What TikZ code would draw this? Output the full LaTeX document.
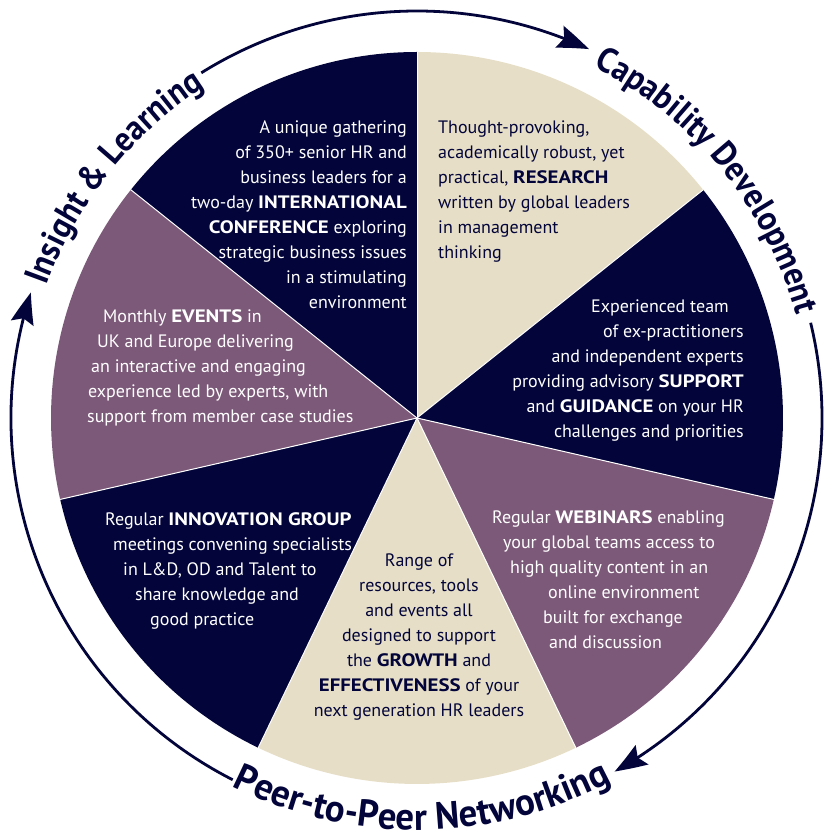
\documentclass[tikz,border=0pt]{standalone}
\usepackage{fontspec}
\setmainfont{PT Sans}[BoldFeatures={FakeStretch=1.16}]
\newfontfamily\curvefamA{PT Sans}[FakeStretch=0.92]
\newfontfamily\curvefamB{PT Sans}[FakeStretch=0.97]
\usetikzlibrary{decorations.text,arrows.meta,bending}
\definecolor{navy}{HTML}{03053A}
\definecolor{plum}{HTML}{7D5979}
\definecolor{cream}{HTML}{E6DEC6}
\newcommand{\curvefontA}{\curvefamA\fontsize{35}{35}\selectfont\bfseries}
\newcommand{\curvefontB}{\curvefamB\fontsize{38}{38}\selectfont\bfseries}
\begin{document}
\begin{tikzpicture}[x=1pt,y=1pt,
  body/.style={inner sep=0pt, font=\fontsize{18}{25}\selectfont},
  arcline/.style={draw=navy, line width=2.8pt, -{Stealth[length=32pt,width=23pt,inset=5pt,bend]}},
  sep/.style={draw=white, line width=1pt}]
\useasboundingbox (0,0) rectangle (826,838);
\coordinate (O) at (417,420);
% wedges
\foreach \c [count=\i from 0] in {cream,navy,plum,cream,navy,plum,navy} {
  \pgfmathsetmacro\sa{90-\i*360/7}
  \pgfmathsetmacro\ea{\sa-360/7}
  \fill[\c] (O) -- ([shift={(\sa:366pt)}]O) arc[start angle=\sa, end angle=\ea, radius=366pt] -- cycle;
}
\foreach \i in {0,...,6} {
  \pgfmathsetmacro\sa{90-\i*360/7}
  \draw[sep] (O) -- ([shift={(\sa:366pt)}]O);
}
% outer arrows
\draw[arcline] ([shift={(122:407pt)}]O) arc[start angle=122, end angle=65, radius=407pt];
\draw[arcline] ([shift={(13.6:405pt)}]O) arc[start angle=13.6, end angle=-60.8, radius=405pt];
\draw[arcline] ([shift={(243:406pt)}]O) arc[start angle=243, end angle=162, radius=406pt];
% curved labels
\path[decorate, decoration={text along path, text={|\curvefontA|Capability Development}, text align=center, text color=navy}]
  ([shift={(84.25:393pt)}]O) arc[start angle=84.25, end angle=-5.75, radius=393pt];
\path[decorate, decoration={text along path, text={|\curvefontA|Insight {\&} Learning}, text align=center, text color=navy}]
  ([shift={(181.5:393pt)}]O) arc[start angle=181.5, end angle=101.5, radius=393pt];
\path[decorate, decoration={text along path, text={|\curvefontB|Peer-to-Peer Networking}, text align=center, text color=navy}]
  ([shift={(-134.25:412pt)}]O) arc[start angle=-134.25, end angle=-44.25, radius=412pt];
% texts
\node[body, anchor=north east, align=right, text=white] (conf) at (407,722.5)
 {\strut A unique gathering\\ of 350+ senior HR and\\ business leaders for a\\ two-day \textbf{INTERNATIONAL}\\ \textbf{CONFERENCE} exploring\\ strategic business issues\\ in a stimulating\\ environment};
\node[body, anchor=north west, align=left, text=navy] (res) at (438,722.5)
 {\strut Thought-provoking,\\ academically robust, yet\\ practical, \textbf{RESEARCH}\\ written by global leaders\\ in management\\ thinking};
\node[body, anchor=north east, align=right, text=white] (sup) at (744,543.5)
 {\strut Experienced team\hspace*{15pt}\\ of ex-practitioners\hspace*{6pt}\\ and independent experts\\ providing advisory \textbf{SUPPORT}\\ and \textbf{GUIDANCE} on your HR\\ challenges and priorities};
\node[body, anchor=north west, align=left, text=white] (web) at (492,332.5)
 {\strut Regular \textbf{WEBINARS} enabling\\ \hspace*{11pt}your global teams access to\\ \hspace*{18pt}high quality content in an\\ \hspace*{56pt}online environment\\ \hspace*{51pt}built for exchange\\ \hspace*{57pt}and discussion};
\node[body, anchor=north, align=center, text=navy] (grow) at (419,289.5)
 {\strut Range of\\ resources, tools\\ and events all\\ designed to support\\ the \textbf{GROWTH} and\\ \textbf{EFFECTIVENESS} of your\\ next generation HR leaders};
\node[body, anchor=north west, align=left, text=white] (inno) at (105,330.5)
 {\strut Regular \textbf{INNOVATION GROUP}\\ \hspace*{8pt}meetings convening specialists\\ \hspace*{18pt}in L\&D, OD and Talent to\\ \hspace*{30pt}share knowledge and\\ \hspace*{45pt}good practice};
\node[body, anchor=north west, align=left, text=white] (evt) at (87,533.5)
 {\strut\hspace*{16pt}Monthly \textbf{EVENTS} in\\ \hspace*{10pt}UK and Europe delivering\\ \hspace*{4pt}an interactive and engaging\\ \hspace*{1pt}experience led by experts, with\\ support from member case studies};
\end{tikzpicture}
\end{document}
